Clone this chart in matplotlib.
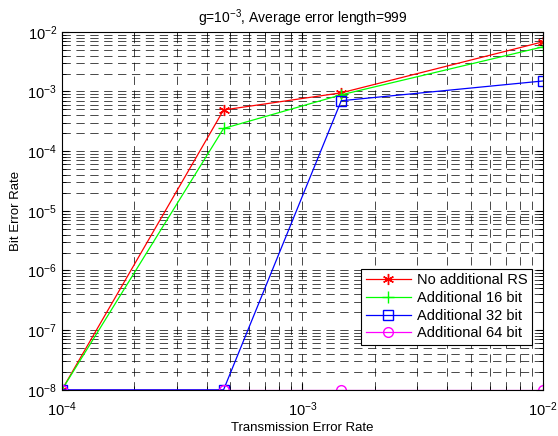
import matplotlib
matplotlib.use('Agg')
import matplotlib.pyplot as plt
import numpy as np

plt.rcParams['font.family'] = ['Liberation Sans', 'DejaVu Sans']
plt.rcParams['mathtext.fontset'] = 'custom'
plt.rcParams['mathtext.rm'] = 'Liberation Sans'

# transmission error rates (x)
ter = [1e-4, 4.7e-4, 1.45e-3, 1e-2]

# bit error rates per scheme
ber_none = [1e-8, 4.9e-4, 9.5e-4, 6.8e-3]
ber_16 = [1e-8, 2.4e-4, 8.8e-4, 5.6e-3]
ber_32 = [1e-8, 1e-8, 7.0e-4, 1.5e-3]
ber_64 = [1e-8, 1e-8, 1e-8, 1e-8]

labels = ['No additional RS', 'Additional 16 bit', 'Additional 32 bit', 'Additional 64 bit']

fig = plt.figure(figsize=(5.58, 4.36), dpi=100)
ax = fig.add_axes([0.111, 0.106, 0.862, 0.821])

ax.loglog(ter, ber_none, '-', marker=(6, 2, 0), color='red', lw=0.9, ms=8, mew=1.0, label=labels[0])
ax.loglog(ter, ber_16, '-+', color='#00ff00', lw=0.9, ms=8, label=labels[1])
ax.loglog(ter, ber_32, 'b-s', lw=0.9, ms=6.5, mfc='none', label=labels[2])
ax.loglog(ter, ber_64, '-o', color='magenta', lw=0.9, ms=7, mfc='none', label=labels[3])

ax.set_xlim(1e-4, 1e-2)
ax.set_ylim(1e-8, 1e-2)
ax.grid(True, which='both', color='black', ls=(0, (12, 8)), lw=0.5)
ax.tick_params(which='both', direction='in', top=True, right=True, labelsize=10.5)
ax.tick_params(axis='x', which='major', pad=8)
ax.tick_params(which='major', length=5)
ax.tick_params(which='minor', length=3)
for s in ax.spines.values():
    s.set_linewidth(0.8)

ax.set_title('g=10$^{-3}$, Average error length=999', fontsize=10)
ax.set_xlabel('Transmission Error Rate', fontsize=9.5, labelpad=2)
ax.set_ylabel('Bit Error Rate', fontsize=9.5)

leg = ax.legend(loc='lower right', bbox_to_anchor=(0.977, 0.126), fontsize=10.5,
                fancybox=False, edgecolor='black', framealpha=1, borderaxespad=0,
                borderpad=0.3, labelspacing=0.25, handlelength=3.1, handletextpad=0.4)
leg.get_frame().set_linewidth(0.8)

fig.savefig('out.png', dpi=100)
